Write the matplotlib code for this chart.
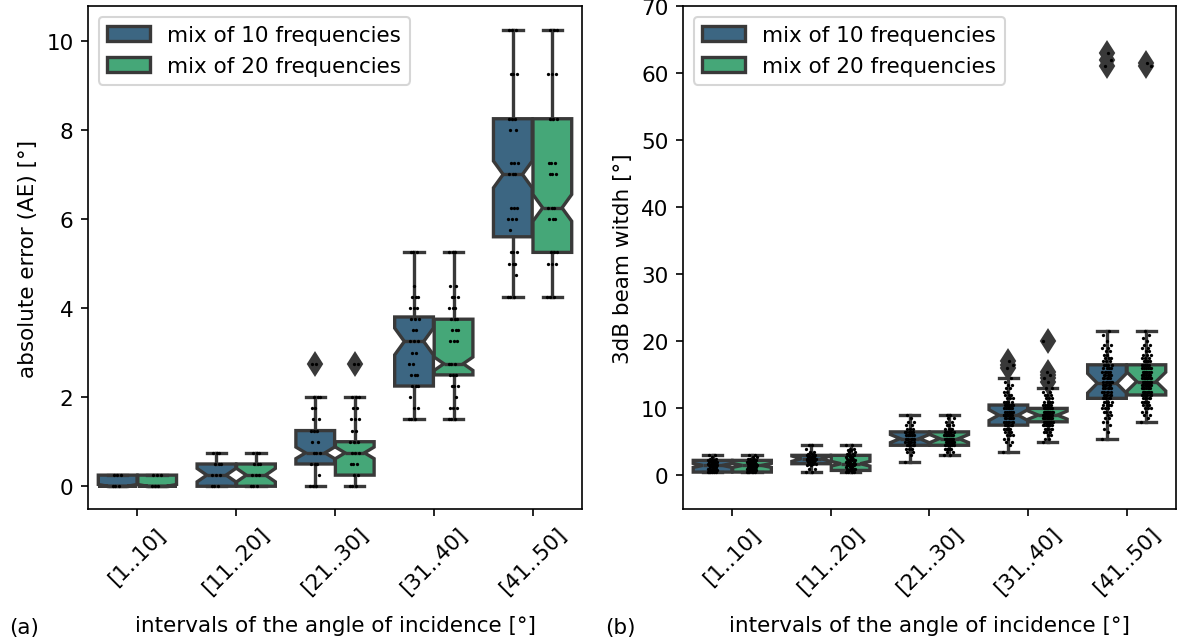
import colorsys

import matplotlib
matplotlib.use("Agg")
import matplotlib.pyplot as plt
import numpy as np
from matplotlib.patches import Patch

plt.rcParams["font.size"] = 10.3

categories = ["[1..10]", "[11..20]", "[21..30]", "[31..40]", "[41..50]"]
series = ["mix of 10 frequencies", "mix of 20 frequencies"]

# box stats per interval: (whislo, q1, med, q3, whishi)
ae_box_10 = [(0, 0, 0, 0.25, 0.25), (0, 0, 0.25, 0.5, 0.75), (0, 0.5, 0.75, 1.25, 2.0),
             (1.5, 2.25, 3.25, 3.8, 5.25), (4.25, 5.6, 7.0, 8.25, 10.25)]
ae_box_20 = [(0, 0, 0, 0.25, 0.25), (0, 0, 0.25, 0.5, 0.75), (0, 0.25, 0.75, 1.0, 2.0),
             (1.5, 2.5, 2.75, 3.75, 5.25), (4.25, 5.25, 6.25, 8.25, 10.25)]
ae_ci_10 = [(0, 0.04), (0.1, 0.4), (0.62, 0.88), (2.95, 3.55), (6.7, 7.3)]
ae_ci_20 = [(0, 0.04), (0.1, 0.4), (0.62, 0.88), (2.6, 2.9), (5.95, 6.55)]
ae_fliers_10 = [[], [], [2.75], [], []]
ae_fliers_20 = [[], [], [2.75], [], []]

# strip points: distinct values and how many points sit on each
ae_vals_10 = [
    [0, 0.25],
    [0, 0.25, 0.5, 0.75],
    [0, 0.25, 0.5, 0.75, 1.0, 1.25, 1.5, 1.75, 2.0, 2.75],
    [1.5, 1.75, 2.0, 2.25, 2.5, 2.75, 3.0, 3.25, 3.5, 3.75, 4.0, 4.25, 4.5, 5.25],
    [4.25, 4.75, 5.0, 5.25, 5.75, 6.0, 6.25, 7.0, 7.25, 8.0, 8.25, 9.25, 10.25],
]
ae_cnt_10 = [
    [3, 3],
    [3, 3, 3, 3],
    [3, 1, 3, 3, 2, 3, 2, 2, 3, 2],
    [3, 2, 1, 3, 3, 2, 2, 3, 2, 3, 3, 3, 1, 3],
    [3, 1, 3, 3, 1, 3, 3, 3, 3, 2, 3, 3, 3],
]
ae_vals_20 = [
    [0, 0.25],
    [0, 0.25, 0.5, 0.75],
    [0, 0.25, 0.5, 0.75, 1.0, 1.25, 1.5, 1.75, 2.0, 2.75],
    [1.5, 1.75, 2.0, 2.25, 2.5, 2.75, 3.25, 3.5, 3.75, 4.0, 4.25, 4.5, 5.25],
    [4.25, 5.0, 5.25, 6.0, 6.25, 7.0, 7.25, 8.25, 9.25, 10.25],
]
ae_cnt_20 = [
    [3, 3],
    [3, 3, 3, 3],
    [3, 2, 3, 3, 3, 2, 3, 2, 3, 2],
    [3, 3, 1, 3, 3, 3, 3, 3, 3, 3, 3, 2, 3],
    [3, 3, 3, 3, 3, 3, 3, 3, 3, 3],
]

bw_box_10 = [(0.5, 0.5, 1.5, 2.25, 3.0), (0.5, 1.75, 2.5, 3.0, 4.5), (2.0, 4.5, 5.5, 6.5, 9.0),
             (3.5, 7.5, 9.0, 10.5, 14.5), (5.5, 11.5, 13.75, 16.5, 21.5)]
bw_box_20 = [(0.5, 0.5, 1.5, 2.25, 3.0), (0.5, 0.75, 1.75, 3.0, 4.5), (3.0, 4.5, 5.5, 6.5, 9.0),
             (5.0, 8.0, 9.0, 10.0, 13.0), (8.0, 12.0, 14.0, 16.5, 21.5)]
bw_ci_10 = [(1.2, 1.8), (2.1, 2.9), (4.9, 6.1), (8.2, 9.8), (12.3, 15.2)]
bw_ci_20 = [(1.2, 1.8), (1.4, 2.1), (4.9, 6.1), (8.4, 9.6), (12.6, 15.4)]
bw_fliers_10 = [[], [], [], [16.0, 16.5, 17.0], [61.0, 62.0, 63.0]]
bw_fliers_20 = [[], [], [], [14.0, 14.5, 15.0, 15.5, 20.0], [61.0, 61.5]]

bw_vals_10 = [
    [0.5, 0.75, 1.0, 1.25, 1.5, 1.75, 2.0, 2.25, 2.5, 2.75, 3.0],
    [0.5, 1.0, 1.5, 1.75, 2.0, 2.25, 2.5, 2.75, 3.0, 3.25, 3.5, 4.0, 4.5],
    [2.0, 3.0, 3.5, 4.0, 4.5, 5.0, 5.5, 6.0, 6.5, 7.0, 7.5, 8.0, 8.5, 9.0],
    [3.5, 4.5, 5.0, 5.5, 6.0, 6.5, 7.0, 7.5, 8.0, 8.5, 9.0, 9.5, 10.0, 10.5, 11.0, 11.5,
     12.0, 12.5, 13.0, 13.5, 14.0, 14.5, 16.0, 16.5, 17.0],
    [5.5, 6.5, 7.0, 7.5, 8.0, 8.5, 9.0, 9.5, 10.0, 10.5, 11.0, 11.5, 12.0, 12.5, 13.0,
     13.5, 14.0, 14.5, 15.0, 15.5, 16.0, 16.5, 17.0, 17.5, 18.0, 18.5, 19.0, 19.5, 20.0,
     21.0, 21.5, 61.0, 62.0, 63.0],
]
bw_cnt_10 = [
    [6, 3, 5, 4, 6, 4, 5, 3, 2, 1, 2],
    [2, 2, 2, 3, 4, 4, 5, 4, 4, 2, 2, 1, 2],
    [1, 1, 2, 3, 5, 6, 7, 6, 5, 3, 2, 2, 1, 1],
    [1, 1, 2, 2, 3, 3, 4, 5, 6, 6, 7, 6, 6, 5, 4, 3, 3, 2, 2, 2, 1, 1, 1, 1, 1],
    [1, 1, 1, 1, 2, 2, 2, 3, 3, 4, 4, 5, 5, 5, 5, 6, 6, 5, 5, 5, 4, 4, 3, 3, 2, 2, 2, 2,
     1, 1, 1, 1, 1, 1],
]
bw_vals_20 = [
    [0.5, 0.75, 1.0, 1.25, 1.5, 1.75, 2.0, 2.25, 2.5, 2.75, 3.0],
    [0.5, 0.75, 1.0, 1.25, 1.5, 1.75, 2.0, 2.25, 2.5, 2.75, 3.0, 3.25, 3.5, 3.75, 4.0, 4.5],
    [3.0, 3.5, 4.0, 4.5, 5.0, 5.5, 6.0, 6.5, 7.0, 7.5, 8.0, 8.5, 9.0],
    [5.0, 5.5, 6.0, 6.5, 7.0, 7.5, 8.0, 8.5, 9.0, 9.5, 10.0, 10.5, 11.0, 11.5, 12.0, 12.5,
     13.0, 14.0, 14.5, 15.0, 15.5, 20.0],
    [8.0, 8.5, 9.0, 9.5, 10.0, 10.5, 11.0, 11.5, 12.0, 12.5, 13.0, 13.5, 14.0, 14.5, 15.0,
     15.5, 16.0, 16.5, 17.0, 17.5, 18.0, 18.5, 19.0, 19.5, 20.0, 20.5, 21.0, 21.5, 61.0,
     61.5],
]
bw_cnt_20 = [
    [6, 4, 5, 5, 6, 5, 5, 3, 3, 2, 2],
    [4, 4, 4, 3, 4, 4, 4, 3, 3, 3, 3, 2, 2, 2, 2, 2],
    [2, 2, 4, 6, 8, 9, 8, 6, 4, 3, 2, 2, 2],
    [1, 2, 2, 3, 5, 7, 9, 10, 10, 9, 8, 5, 4, 3, 3, 2, 2, 1, 1, 1, 1, 1],
    [1, 1, 2, 2, 3, 3, 4, 5, 6, 7, 7, 8, 8, 8, 7, 7, 6, 5, 4, 3, 3, 2, 2, 2, 1, 1, 1, 1,
     1, 1],
]


def desaturate(c, prop=0.75):
    h, l, s = colorsys.rgb_to_hls(*c[:3])
    return colorsys.hls_to_rgb(h, l, s * prop)


cmap = plt.get_cmap("viridis")
colors = [desaturate(cmap(1 / 3)), desaturate(cmap(2 / 3))]
lum = min(colorsys.rgb_to_hls(*c)[1] for c in colors) * 0.6
GRAY = (lum, lum, lum)
LW = 1.6
BOX_W = 0.392


def draw_panel(ax, boxes, cis, fliers, vals, cnts):
    x = np.arange(len(categories))
    for j, offset in enumerate((-0.2, 0.2)):
        stats = []
        for (lo, q1, med, q3, hi), (cl, ch), fl in zip(boxes[j], cis[j], fliers[j]):
            stats.append(dict(whislo=lo, q1=q1, med=med, q3=q3, whishi=hi,
                              cilo=cl, cihi=ch, fliers=fl))
        ax.bxp(stats, positions=x + offset, widths=BOX_W, shownotches=True,
               patch_artist=True, manage_ticks=False,
               boxprops=dict(facecolor=colors[j], edgecolor=GRAY, linewidth=LW),
               medianprops=dict(color=GRAY, linewidth=LW),
               whiskerprops=dict(color=GRAY, linewidth=LW),
               capprops=dict(color=GRAY, linewidth=LW),
               flierprops=dict(marker="d", markerfacecolor=GRAY, markeredgecolor=GRAY,
                               markersize=7.5))
        # strip points, spread sideways with a fixed (non-random) jitter
        for i in range(len(categories)):
            pts = np.repeat(np.asarray(vals[j][i], dtype=float), cnts[j][i])
            jit = ((np.arange(len(pts)) * 0.618034) % 1 - 0.5) * 0.1
            ax.scatter(x[i] + offset + jit, pts, s=2.5, color="black", zorder=4,
                       linewidths=0)
    ax.set_xticks(x)
    ax.set_xticklabels(categories, rotation=45)
    ax.set_xlim(-0.5, len(categories) - 0.5)
    ax.set_xlabel("intervals of the angle of incidence [°]", labelpad=8)
    handles = [Patch(facecolor=c, edgecolor=GRAY, linewidth=LW) for c in colors]
    ax.legend(handles, series, loc="upper left")


fig = plt.figure(figsize=(7.8667, 4.2933), dpi=150)
ax1 = fig.add_axes([0.0746, 0.2081, 0.4186, 0.781])
ax2 = fig.add_axes([0.5788, 0.2081, 0.4178, 0.781])

draw_panel(ax1, [ae_box_10, ae_box_20], [ae_ci_10, ae_ci_20],
           [ae_fliers_10, ae_fliers_20], [ae_vals_10, ae_vals_20], [ae_cnt_10, ae_cnt_20])
ax1.set_ylim(-0.51, 10.78)
ax1.set_ylabel("absolute error (AE) [°]")

draw_panel(ax2, [bw_box_10, bw_box_20], [bw_ci_10, bw_ci_20],
           [bw_fliers_10, bw_fliers_20], [bw_vals_10, bw_vals_20], [bw_cnt_10, bw_cnt_20])
ax2.set_ylim(-5, 70)
ax2.set_ylabel("3dB beam witdh [°]")

fig.text(0.008, 0.025, "(a)", va="center")
fig.text(0.513, 0.025, "(b)", va="center")

fig.savefig("out.png", dpi=150)
